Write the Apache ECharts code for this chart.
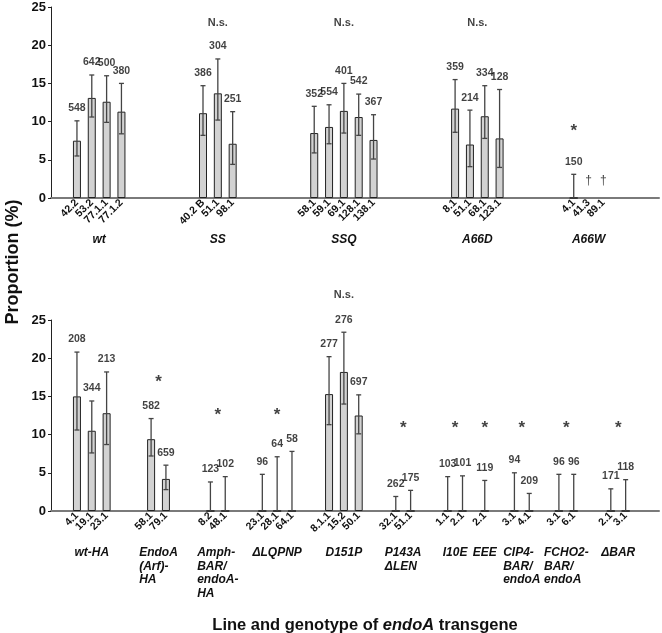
<!DOCTYPE html>
<html>
<head>
<meta charset="utf-8">
<script src="https://cdn.jsdelivr.net/npm/echarts@6/dist/echarts.min.js"></script>
<style>
  html, body { margin: 0; padding: 0; background: #fff; }
</style>
</head>
<body>
<div id="main" style="width:662px;height:633px;"></div>
<script>
// number of category slots on each x axis (bars sit on every other slot, groups are separated by empty slots)
var slotCount = 82

// ---- top panel ----
var topGroups = ['wt', 'SS', 'SSQ', 'A66D', 'A66W']
var topLines = ['42.2', '53.2', '77.1.1', '77.1.2', '40.2 B', '51.1', '98.1', '58.1', '59.1', '69.1', '128.1', '138.1', '8.1', '51.1', '68.1', '123.1', '4.1', '41.3', '89.1']
var topGroupOf = [0, 0, 0, 0, 1, 1, 1, 2, 2, 2, 2, 2, 3, 3, 3, 3, 4, 4, 4]
var topValues = [7.5, 13.1, 12.6, 11.3, 11.1, 13.7, 7.1, 8.5, 9.3, 11.4, 10.6, 7.6, 11.7, 7.0, 10.7, 7.8, 0, null, null]
var topLow = [5.5, 10.6, 9.9, 8.4, 8.2, 10.2, 4.4, 5.9, 7.1, 8.5, 8.2, 5.1, 8.6, 4.1, 7.8, 4.0, 0, null, null]
var topHigh = [10.1, 16.1, 16.0, 15.0, 14.7, 18.2, 11.3, 12.0, 12.2, 15.0, 13.6, 10.9, 15.5, 11.5, 14.7, 14.2, 3.1, null, null]
var topN = [548, 642, 500, 380, 386, 304, 251, 352, 554, 401, 542, 367, 359, 214, 334, 128, 150, null, null]
var topDagger = [null, null, null, null, null, null, null, null, null, null, null, null, null, null, null, null, null, 2.3, 2.3]
var topMarks = ['', 'N.s.', 'N.s.', 'N.s.', '*']
var topMarkLevel = [null, 22.9, 22.9, 22.9, 9.3]

// ---- bottom panel ----
var bottomGroups = ['wt-HA', 'EndoA\n(Arf)-\nHA', 'Amph-\nBAR/\nendoA-\nHA', '\u0394LQPNP', 'D151P', 'P143A\n\u0394LEN', 'I10E', 'EEE', 'CIP4-\nBAR/\nendoA', 'FCHO2-\nBAR/\nendoA', '\u0394BAR']
var bottomLines = ['4.1', '19.1', '23.1', '58.1', '79.1', '8.2', '48.1', '23.1', '28.1', '64.1', '8.1.1', '15.2', '50.1', '32.1', '51.1', '1.1', '2.1', '2.1', '3.1', '4.1', '3.1', '6.1', '2.1', '3.1']
var bottomGroupOf = [0, 0, 0, 1, 1, 2, 2, 3, 3, 3, 4, 4, 4, 5, 5, 6, 6, 7, 8, 8, 9, 9, 10, 10]
var bottomValues = [15.0, 10.5, 12.8, 9.4, 4.2, 0, 0, 0, 0, 0, 15.3, 18.2, 12.5, 0, 0, 0, 0, 0, 0, 0, 0, 0, 0, 0]
var bottomLow = [10.6, 7.6, 8.7, 7.2, 2.8, 0, 0, 0, 0, 0, 11.3, 14.0, 10.1, 0, 0, 0, 0, 0, 0, 0, 0, 0, 0, 0]
var bottomHigh = [20.8, 14.4, 18.2, 12.1, 6.0, 3.8, 4.5, 4.8, 7.1, 7.8, 20.2, 23.4, 15.2, 1.9, 2.7, 4.5, 4.6, 4.0, 5.0, 2.3, 4.8, 4.8, 2.9, 4.1]
var bottomN = [208, 344, 213, 582, 659, 123, 102, 96, 64, 58, 277, 276, 697, 262, 175, 103, 101, 119, 94, 209, 96, 96, 171, 118]
var bottomMarks = ['', '*', '*', '*', 'N.s.', '*', '*', '*', '*', '*', '*']
var bottomMarkLevel = [null, 17.4, 13.0, 13.0, 28.3, 11.4, 11.4, 11.4, 11.4, 11.4, 11.4]

var yTicks = [0, 5, 10, 15, 20, 25]

// layout: which slot each line sits in
var topSlots = [3, 5, 7, 9, 20, 22, 24, 35, 37, 39, 41, 43, 54, 56, 58, 60, 70, 72, 74]
var bottomSlots = [3, 5, 7, 13, 15, 21, 23, 28, 30, 32, 37, 39, 41, 46, 48, 53, 55, 58, 62, 64, 68, 70, 75, 77]
var topMarkAnchor = ['center', 'center', 'center', 'center', 'first']

var font = "'Liberation Sans', Arial, Helvetica, sans-serif"

function makeCats(slots, lines) {
  var c = []
  for (var i = 0; i < slotCount; i++) c.push('')
  slots.forEach(function (s, i) { c[s] = lines[i] })
  return c
}

function groupSlots(slots, groupOf, g) {
  var r = []
  slots.forEach(function (s, i) { if (groupOf[i] === g) r.push(s) })
  return r
}

function groupCenter(slots, groupOf, g) {
  var r = groupSlots(slots, groupOf, g)
  return (r[0] + r[r.length - 1]) / 2
}

function xAxisFor(gridIndex, slots, lines) {
  return {
    type: 'category',
    gridIndex: gridIndex,
    data: makeCats(slots, lines),
    axisTick: { show: false },
    axisLine: { lineStyle: { color: '#7a7a7a', width: 2 } },
    axisLabel: {
      interval: 0,
      rotate: 45,
      margin: 3,
      fontFamily: font,
      fontWeight: 'bold',
      fontSize: 10.5,
      color: '#111'
    }
  }
}

function yAxisFor(gridIndex) {
  return {
    type: 'value',
    gridIndex: gridIndex,
    min: yTicks[0],
    max: yTicks[yTicks.length - 1],
    interval: 5,
    splitLine: { show: false },
    axisLine: { show: true, lineStyle: { color: '#222', width: 1 } },
    axisTick: { show: true, length: 3, lineStyle: { color: '#222' } },
    axisLabel: { fontFamily: font, fontWeight: 'bold', fontSize: 13, color: '#111', margin: 5 }
  }
}

function panelSeries(k, slots, values, low, high, nums) {
  var bars = [], errs = [], labels = []
  slots.forEach(function (s, i) {
    if (values[i] !== null) bars.push([s, values[i]])
    if (high[i] !== null) {
      errs.push([s, low[i], high[i]])
      labels.push({ value: [s, high[i]], n: nums[i] })
    }
  })
  return [
    {
      type: 'bar',
      xAxisIndex: k,
      yAxisIndex: k,
      barWidth: 8,
      data: bars,
      itemStyle: { color: '#d2d2d2', borderColor: '#222', borderWidth: 1 },
      silent: true
    },
    {
      type: 'custom',
      xAxisIndex: k,
      yAxisIndex: k,
      data: errs,
      encode: { x: 0, y: [1, 2] },
      renderItem: function (params, api) {
        var x = api.value(0)
        var lo = api.value(1)
        var hi = api.value(2)
        var pHi = api.coord([x, hi])
        var pLo = api.coord([x, lo])
        var style = { stroke: '#444', lineWidth: 1.3 }
        var kids = [
          { type: 'line', shape: { x1: pHi[0], y1: pHi[1], x2: pLo[0], y2: pLo[1] }, style: style },
          { type: 'line', shape: { x1: pHi[0] - 2.5, y1: pHi[1], x2: pHi[0] + 2.5, y2: pHi[1] }, style: style }
        ]
        if (lo > 0) {
          kids.push({ type: 'line', shape: { x1: pLo[0] - 2.5, y1: pLo[1], x2: pLo[0] + 2.5, y2: pLo[1] }, style: style })
        }
        return { type: 'group', children: kids }
      },
      z: 3
    },
    {
      type: 'scatter',
      xAxisIndex: k,
      yAxisIndex: k,
      symbolSize: 0,
      data: labels,
      clip: false,
      label: {
        show: true,
        position: 'top',
        distance: 7,
        formatter: function (p) { return p.data.n },
        fontFamily: font,
        fontWeight: 'bold',
        fontSize: 10.5,
        color: '#111'
      }
    }
  ]
}

function markSeries(k, items) {
  return {
    type: 'scatter',
    xAxisIndex: k,
    yAxisIndex: k,
    symbolSize: 0,
    clip: false,
    data: items,
    label: {
      show: true,
      position: 'inside',
      formatter: function (p) { return p.data.text },
      fontFamily: font,
      fontWeight: 'bold',
      color: '#111'
    }
  }
}

var topMarkItems = []
topMarks.forEach(function (t, g) {
  if (!t) return
  var s = topMarkAnchor[g] === 'first' ? groupSlots(topSlots, topGroupOf, g)[0] : groupCenter(topSlots, topGroupOf, g)
  topMarkItems.push({ value: [s, topMarkLevel[g]], text: t, label: t === '*' ? { fontSize: 17, offset: [0, 4] } : { fontSize: 11 } })
})
topLines.forEach(function (l, i) {
  if (topDagger[i] !== null) {
    topMarkItems.push({ value: [topSlots[i], topDagger[i]], text: '\u2020', label: { fontSize: 12, fontWeight: 'normal' } })
  }
})

var bottomMarkItems = []
bottomMarks.forEach(function (t, g) {
  if (!t) return
  var s = groupCenter(bottomSlots, bottomGroupOf, g)
  bottomMarkItems.push({ value: [s, bottomMarkLevel[g]], text: t, label: t === '*' ? { fontSize: 17, offset: [0, 4] } : { fontSize: 11 } })
})

var chart = echarts.init(document.getElementById('main'), null, { renderer: 'canvas' })

var option = {
  animation: false,
  backgroundColor: '#fff',
  grid: [
    { left: 51, right: 3, top: 7, height: 191 },
    { left: 51, right: 3, top: 320, height: 191 }
  ],
  xAxis: [xAxisFor(0, topSlots, topLines), xAxisFor(1, bottomSlots, bottomLines)],
  yAxis: [yAxisFor(0), yAxisFor(1)],
  series: []
    .concat(panelSeries(0, topSlots, topValues, topLow, topHigh, topN))
    .concat(panelSeries(1, bottomSlots, bottomValues, bottomLow, bottomHigh, bottomN))
    .concat([markSeries(0, topMarkItems), markSeries(1, bottomMarkItems)])
}
chart.setOption(option)

// group names under the axes and the axis titles
var measure = document.createElement('canvas').getContext('2d')
measure.font = 'italic bold 12px ' + font
function textWidth(t) {
  return Math.max.apply(null, t.split('\n').map(function (s) { return measure.measureText(s).width }))
}

var graphics = []
topGroups.forEach(function (g, i) {
  var cx = chart.convertToPixel({ xAxisIndex: 0 }, groupCenter(topSlots, topGroupOf, i))
  graphics.push({
    type: 'text', x: cx, y: 240,
    style: { text: g, font: 'italic bold 12px ' + font, fill: '#111', align: 'center', verticalAlign: 'middle' }
  })
})
bottomGroups.forEach(function (g, i) {
  var cx = chart.convertToPixel({ xAxisIndex: 1 }, groupCenter(bottomSlots, bottomGroupOf, i))
  graphics.push({
    type: 'text', x: cx - textWidth(g) / 2, y: 546,
    style: { text: g, font: 'italic bold 12px ' + font, fill: '#111', align: 'left', verticalAlign: 'top', lineHeight: 13.5 }
  })
})
graphics.push({
  type: 'text', x: 365, y: 625,
  style: {
    text: '{b|Line and genotype of }{i|endoA}{b| transgene}',
    align: 'center', verticalAlign: 'middle',
    rich: {
      b: { font: 'bold 16.5px ' + font, fill: '#111' },
      i: { font: 'italic bold 16.5px ' + font, fill: '#111' }
    }
  }
})
graphics.push({
  type: 'text', x: 13, y: 262, rotation: Math.PI / 2,
  style: { text: 'Proportion (%)', font: 'bold 18px ' + font, fill: '#111', align: 'center', verticalAlign: 'middle' }
})
chart.setOption({ graphic: graphics })
</script>
</body>
</html>
